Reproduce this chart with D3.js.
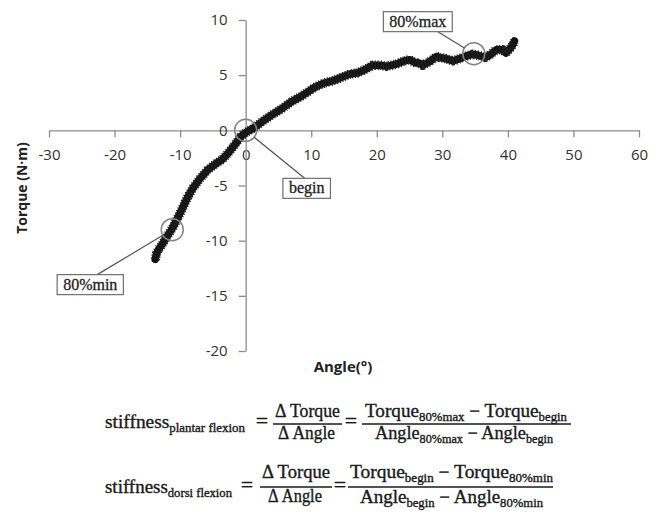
<!DOCTYPE html>
<html>
<head>
<meta charset="utf-8">
<script src="https://cdn.jsdelivr.net/npm/d3@7"></script>
<style>
    body { margin: 0; background: #fff; }
    svg { display: block; }
    .axis .domain, .axis line { stroke: #8c8c8c; stroke-width: 1.3; }
    .axis text { font-family: "Open Sans", sans-serif; font-size: 15px; fill: #333; }
    .formula text { font-family: "Liberation Serif", serif; fill: #1a1a1a; stroke: #1a1a1a; stroke-width: 0.35; white-space: pre; }
</style>
</head>
<body>
<div id="chart"></div>
<script>
// tick values
const xTicks = [-30, -20, -10, 0, 10, 20, 30, 40, 50, 60];
const yTicks = [-20, -15, -10, -5, 0, 5, 10];

// torque / angle trace
const angleDeg = [-13.8, -13.6, -13.3, -12.8, -12.2, -11.2, -10.5, -9.6, -8.8, -8.0, -7.0, -5.8, -4.5, -3.5,
    -2.6, -1.9, -1.4, -0.8, 0, 0.6, 1.2, 2.1, 3.0, 4.0, 5.6, 7.0, 8.5, 9.8, 10.5, 12.0, 12.8, 13.8,
    15.9, 17.0, 17.8, 18.5, 19.4, 20.5, 21.5, 23.0, 24.2, 25.0, 26.0, 26.5, 27.0, 28.0, 29.1, 29.6,
    30.5, 31.6, 32.2, 33.5, 34.6, 35.5, 36.5, 37.2, 38.2, 39.2, 39.7, 40.3, 40.7, 41.0];
const torqueNm = [-11.7, -11.2, -10.8, -10.4, -9.8, -8.9, -8.1, -7.0, -6.0, -5.2, -4.4, -3.6, -3.0, -2.6,
    -2.0, -1.5, -1.1, -0.6, -0.2, 0.0, 0.2, 0.6, 1.0, 1.4, 2.0, 2.6, 3.1, 3.6, 3.9, 4.3, 4.4, 4.6,
    5.1, 5.2, 5.4, 5.6, 5.9, 5.9, 5.8, 6.0, 6.3, 6.4, 6.1, 6.1, 5.9, 6.2, 6.7, 6.6,
    6.5, 6.3, 6.4, 6.7, 6.9, 6.8, 6.6, 6.8, 7.3, 7.3, 7.0, 7.4, 7.7, 8.1];

// marked points
const markNames = ["begin", "80%max", "80%min"];
const markAngle = [0, 34.8, -11.2];
const markTorque = [0, 6.95, -9.0];

let w = 662;
let h = 512;

let svg = d3.select('#chart').append('svg')
    .attr('width', w)
    .attr('height', h)
;

let x = d3.scaleLinear().domain([-30, 60]).range([49, 639]);
let y = d3.scaleLinear().domain([-20, 10]).range([351, 20]);

// axes cross at the origin, plain hyphen for negatives
svg.append('g')
    .attr('class', 'axis')
    .attr('transform', `translate(0,${y(0)})`)
    .call(d3.axisBottom(x).tickValues(xTicks).tickFormat(d => String(d))
        .tickSize(7).tickSizeOuter(0).tickPadding(12))
;
svg.append('g')
    .attr('class', 'axis')
    .attr('transform', `translate(${x(0)},0)`)
    .call(d3.axisLeft(y).tickValues(yTicks).tickFormat(d => String(d))
        .tickSize(7).tickSizeOuter(0).tickPadding(11))
;

// axis titles
svg.append('text')
    .attr('transform', `translate(27,188) rotate(-90)`)
    .attr('text-anchor', 'middle')
    .style('font-family', '"Open Sans", sans-serif')
    .style('font-weight', 'bold')
    .style('font-size', '14px')
    .style('fill', '#222')
    .text('Torque (N·m)')
;
svg.append('text')
    .attr('x', 343)
    .attr('y', 372)
    .attr('text-anchor', 'middle')
    .style('font-family', '"Open Sans", sans-serif')
    .style('font-weight', 'bold')
    .style('font-size', '15px')
    .style('fill', '#222')
    .text('Angle(°)')
;

// the trace: solid core plus a dashed wider stroke for the rough edge
let pts = angleDeg.map((a, i) => [a, torqueNm[i]]);
let line = d3.line().x(d => x(d[0])).y(d => y(d[1]));
svg.append('path')
    .datum(pts)
    .attr('d', line)
    .attr('fill', 'none')
    .attr('stroke', '#111')
    .attr('stroke-width', 7.5)
    .attr('stroke-linejoin', 'round')
    .attr('stroke-linecap', 'round')
;
svg.append('path')
    .datum(pts)
    .attr('d', line)
    .attr('fill', 'none')
    .attr('stroke', '#222')
    .attr('stroke-width', 9.5)
    .attr('stroke-dasharray', '1.2 1.6')
    .attr('stroke-linejoin', 'round')
;

// circles + callouts. offsets: box centre dx, dy and leader anchor on box
const callout = [
    {dx: 61, dy: 58, ax: -2, side: -1},
    {dx: -56, dy: -32, ax: 20, side: 1},
    {dx: -82, dy: 55, ax: 7, side: -1}
];
let r = 11;
markNames.forEach((name, i) => {
    let cx = x(markAngle[i]);
    let cy = y(markTorque[i]);
    let c = callout[i];
    let bx = cx + c.dx;
    let by = cy + c.dy;

    let g = svg.append('g');
    g.append('circle')
        .attr('cx', cx).attr('cy', cy).attr('r', r)
        .attr('fill', 'none')
        .attr('stroke', '#858585')
        .attr('stroke-width', 1.5)
    ;
    let label = g.append('text')
        .attr('x', bx).attr('y', by + 5)
        .attr('text-anchor', 'middle')
        .style('font-family', '"Liberation Serif", serif')
        .style('font-size', '16px')
        .style('fill', '#222')
        .style('stroke', '#222')
        .style('stroke-width', 0.3)
        .text(name)
    ;
    let bw = label.node().getComputedTextLength() + 12;
    let bh = 20;
    g.insert('rect', 'text')
        .attr('x', bx - bw / 2).attr('y', by - bh / 2)
        .attr('width', bw).attr('height', bh)
        .attr('fill', '#fff')
        .attr('stroke', '#6f6f6f')
        .attr('stroke-width', 1.2)
    ;
    // leader from box edge to circle edge
    let lx = bx + c.ax;
    let ly = by + c.side * bh / 2;
    let ang = Math.atan2(ly - cy, lx - cx);
    g.insert('line', 'rect')
        .attr('x1', lx).attr('y1', ly)
        .attr('x2', cx + r * Math.cos(ang)).attr('y2', cy + r * Math.sin(ang))
        .attr('stroke', '#555')
        .attr('stroke-width', 1.2)
    ;
});

// formulas
let formula = svg.append('g').attr('class', 'formula');

function mathText(parts, px, py, anchor, len, size) {
    size = size || 18;
    let t = formula.append('text')
        .attr('x', px).attr('y', py)
        .attr('text-anchor', anchor)
    ;
    let shift = 0;
    parts.forEach(p => {
        let sub = p[1];
        let s = sub ? 3.5 : 0;
        t.append('tspan')
            .attr('dy', s - shift)
            .attr('font-size', sub ? 12 : size)
            .text(p[0])
        ;
        shift = s;
    });
    if (len) t.attr('textLength', len).attr('lengthAdjust', 'spacingAndGlyphs');
    return t;
}
function bar(x1, x2, yy) {
    formula.append('line')
        .attr('x1', x1).attr('x2', x2).attr('y1', yy).attr('y2', yy)
        .attr('stroke', '#1a1a1a').attr('stroke-width', 1.4)
    ;
}

// plantar flexion
mathText([["stiffness", 0], ["plantar flexion", 1]], 105, 428, 'start', 140);
mathText([["=", 0]], 262, 428, 'middle', 0, 22);
mathText([["Δ Torque", 0]], 307.5, 417, 'middle', 65);
mathText([["Δ Angle", 0]], 306.5, 439, 'middle', 57);
bar(273, 342, 424);
mathText([["=", 0]], 351, 428, 'middle', 0, 22);
mathText([["Torque", 0], ["80%max", 1], [" − Torque", 0], ["begin", 1]], 466, 417, 'middle', 202);
mathText([["Angle", 0], ["80%max", 1], [" − Angle", 0], ["begin", 1]], 464, 439, 'middle', 178);
bar(362, 571, 424);

// dorsi flexion
mathText([["stiffness", 0], ["dorsi flexion", 1]], 105, 493, 'start', 127);
mathText([["=", 0]], 247, 492, 'middle', 0, 22);
mathText([["Δ Torque", 0]], 296, 478, 'middle', 68);
mathText([["Δ Angle", 0]], 295, 502, 'middle', 54);
bar(260, 332, 487);
mathText([["=", 0]], 340, 492, 'middle', 0, 22);
mathText([["Torque", 0], ["begin", 1], [" − Torque", 0], ["80%min", 1]], 451.5, 478, 'middle', 203);
mathText([["Angle", 0], ["begin", 1], [" − Angle", 0], ["80%min", 1]], 451.5, 503, 'middle', 183);
bar(348, 553, 487);
</script>
</body>
</html>
